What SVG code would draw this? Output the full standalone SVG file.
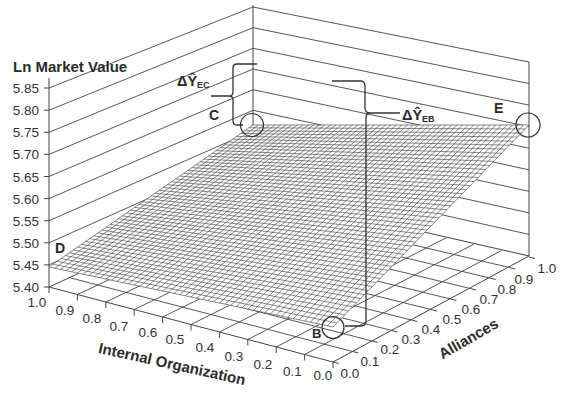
<svg xmlns="http://www.w3.org/2000/svg" width="561" height="393" viewBox="0 0 561 393">
<style>
.grid{fill:none;stroke:#444;stroke-width:0.9}
.mesh{fill:none;stroke:#4a4a4a;stroke-width:0.65}
.edge{fill:none;stroke:#444;stroke-width:1}
.brace{fill:none;stroke:#333;stroke-width:1.3}
.ring{fill:none;stroke:#333;stroke-width:1.2}
.num{font-family:"Liberation Sans",Arial,sans-serif;font-size:13.5px;fill:#333}
.lbl{font-family:"Liberation Sans",Arial,sans-serif;font-weight:bold;fill:#2b2b2b}
</style>
<rect width="561" height="393" fill="#fff"/>
<g id="walls">
<polygon points="49,287 49,88 253,7 253,193" fill="#fff"/>
<polygon points="253,7 529,62 529,256 253,193" fill="#fff"/>
<path class="grid" d="M49,264.9L253,172.3M49,242.8L253,151.7M49,220.7L253,131M49,198.6L253,110.3M49,176.5L253,89.7M49,154.4L253,69M49,132.3L253,48.3M49,110.2L253,27.7M49,88L253,7"/>
<path class="grid" d="M253,172.3L529,234.4M253,151.7L529,212.9M253,131L529,191.3M253,110.3L529,169.8M253,89.7L529,148.2M253,69L529,126.6M253,48.3L529,105.1M253,27.7L529,83.5M253,7L529,62"/>
<path class="edge" d="M253,5L253,193M529,62L529,256M49,78L49,287"/>
<path class="edge" d="M44,287H49M44,264.9H49M44,242.8H49M44,220.7H49M44,198.6H49M44,176.5H49M44,154.4H49M44,132.3H49M44,110.2H49M44,88H49"/>
</g>
<g id="floor">
<polygon points="49,287 333,362 529,256 253,193" fill="#fff" stroke="#444" stroke-width="1"/>
<path class="grid" d="M77.4,294.5L280.6,199.4M105.8,302L308.2,205.8M134.2,309.5L335.8,212.2M162.6,317L363.4,218.6M191,324.5L391,225M219.4,332L418.6,231.4M247.8,339.5L446.2,237.8M276.2,347L473.8,244.2M304.6,354.5L501.4,250.6"/>
<path class="grid" d="M69.4,277.6L352.6,351.5M89.8,268.2L372.2,341M110.2,258.8L391.8,330.5M130.6,249.4L411.4,320M151,240L431,309.5M171.4,230.6L450.6,299M191.8,221.2L470.2,288.5M212.2,211.8L489.8,278M232.6,202.4L509.4,267.5"/>
<path class="edge" d="M49,287v6M77.4,294.5v6M105.8,302v6M134.2,309.5v6M162.6,317v6M191,324.5v6M219.4,332v6M247.8,339.5v6M276.2,347v6M304.6,354.5v6M333,362v6"/>
<path class="edge" d="M333,362l5.8,1.5M352.6,351.5l5.8,1.5M372.2,341l5.8,1.5M391.8,330.5l5.8,1.5M411.4,320l5.8,1.5M431,309.5l5.8,1.5M450.6,299l5.8,1.5M470.2,288.5l5.8,1.5M489.8,278l5.8,1.5M509.4,267.5l5.8,1.5M529,257l5.8,1.5"/>
</g>
<g id="surface">
<polygon points="49,267 333,327 529,125 253,125" fill="#fff"/>
<path class="mesh" d="M54.7,268.2L258.5,125M60.4,269.4L264,125M66,270.6L269.6,125M71.7,271.8L275.1,125M77.4,273L280.6,125M83.1,274.2L286.1,125M88.8,275.4L291.6,125M94.4,276.6L297.2,125M100.1,277.8L302.7,125M105.8,279L308.2,125M111.5,280.2L313.7,125M117.2,281.4L319.2,125M122.8,282.6L324.8,125M128.5,283.8L330.3,125M134.2,285L335.8,125M139.9,286.2L341.3,125M145.6,287.4L346.8,125M151.2,288.6L352.4,125M156.9,289.8L357.9,125M162.6,291L363.4,125M168.3,292.2L368.9,125M174,293.4L374.4,125M179.6,294.6L380,125M185.3,295.8L385.5,125M191,297L391,125M196.7,298.2L396.5,125M202.4,299.4L402,125M208,300.6L407.6,125M213.7,301.8L413.1,125M219.4,303L418.6,125M225.1,304.2L424.1,125M230.8,305.4L429.6,125M236.4,306.6L435.2,125M242.1,307.8L440.7,125M247.8,309L446.2,125M253.5,310.2L451.7,125M259.2,311.4L457.2,125M264.8,312.6L462.8,125M270.5,313.8L468.3,125M276.2,315L473.8,125M281.9,316.2L479.3,125M287.6,317.4L484.8,125M293.2,318.6L490.4,125M298.9,319.8L495.9,125M304.6,321L501.4,125M310.3,322.2L506.9,125M316,323.4L512.4,125M321.6,324.6L518,125M327.3,325.8L523.5,125"/>
<path class="mesh" d="M53.1,264.2L336.9,323M57.2,261.3L340.8,318.9M61.2,258.5L344.8,314.9M65.3,255.6L348.7,310.8M69.4,252.8L352.6,306.8M73.5,250L356.5,302.8M77.6,247.1L360.4,298.7M81.6,244.3L364.4,294.7M85.7,241.4L368.3,290.6M89.8,238.6L372.2,286.6M93.9,235.8L376.1,282.6M98,232.9L380,278.5M102,230.1L384,274.5M106.1,227.2L387.9,270.4M110.2,224.4L391.8,266.4M114.3,221.6L395.7,262.4M118.4,218.7L399.6,258.3M122.4,215.9L403.6,254.3M126.5,213L407.5,250.2M130.6,210.2L411.4,246.2M134.7,207.4L415.3,242.2M138.8,204.5L419.2,238.1M142.8,201.7L423.2,234.1M146.9,198.8L427.1,230M151,196L431,226M155.1,193.2L434.9,222M159.2,190.3L438.8,217.9M163.2,187.5L442.8,213.9M167.3,184.6L446.7,209.8M171.4,181.8L450.6,205.8M175.5,179L454.5,201.8M179.6,176.1L458.4,197.7M183.6,173.3L462.4,193.7M187.7,170.4L466.3,189.6M191.8,167.6L470.2,185.6M195.9,164.8L474.1,181.6M200,161.9L478,177.5M204,159.1L482,173.5M208.1,156.2L485.9,169.4M212.2,153.4L489.8,165.4M216.3,150.6L493.7,161.4M220.4,147.7L497.6,157.3M224.4,144.9L501.6,153.3M228.5,142L505.5,149.2M232.6,139.2L509.4,145.2M236.7,136.4L513.3,141.2M240.8,133.5L517.2,137.1M244.8,130.7L521.2,133.1M248.9,127.8L525.1,129"/>
<polygon points="49,267 333,327 529,125 253,125" fill="none" stroke="#555" stroke-width="0.7"/>
</g>
<g id="axis-labels">
<text class="lbl" x="13" y="72" font-size="15">Ln Market Value</text>
<g class="num" text-anchor="end">
<text x="39" y="93">5.85</text><text x="39" y="115.2">5.80</text><text x="39" y="137.3">5.75</text><text x="39" y="159.4">5.70</text><text x="39" y="181.5">5.65</text><text x="39" y="203.6">5.60</text><text x="39" y="225.7">5.55</text><text x="39" y="247.8">5.50</text><text x="39" y="269.9">5.45</text><text x="39" y="292">5.40</text>
</g>
<g class="num" text-anchor="middle">
<text x="37" y="306.7">1.0</text><text x="65" y="314.7">0.9</text><text x="92" y="322.7">0.8</text><text x="119" y="330.7">0.7</text><text x="148" y="337.2">0.6</text><text x="175" y="343.7">0.5</text><text x="205" y="352.2">0.4</text><text x="234" y="360.7">0.3</text><text x="263" y="368.7">0.2</text><text x="292.5" y="375.7">0.1</text><text x="323" y="380.2">0.0</text>
</g>
<g class="num" text-anchor="middle">
<text x="350" y="377.7">0.0</text><text x="370" y="365.7">0.1</text><text x="390" y="353.7">0.2</text><text x="411" y="343.7">0.3</text><text x="431" y="333.7">0.4</text><text x="452" y="323.7">0.5</text><text x="471" y="313.7">0.6</text><text x="489" y="303.7">0.7</text><text x="507" y="293.7">0.8</text><text x="524" y="283.7">0.9</text><text x="547" y="272.7">1.0</text>
</g>
<text class="lbl" font-size="15" text-anchor="middle" transform="translate(171,369) rotate(12.5)">Internal Organization</text>
<text class="lbl" font-size="15" text-anchor="middle" transform="translate(471,343) rotate(-30)">Alliances</text>
</g>
<g id="annotations">
<circle class="ring" cx="252" cy="125" r="11.5"/>
<circle class="ring" cx="528" cy="125" r="12"/>
<circle class="ring" cx="333" cy="327.5" r="11"/>
<text class="lbl" font-size="14" x="209" y="120">C</text>
<text class="lbl" font-size="14" x="55" y="253">D</text>
<text class="lbl" font-size="14" x="494" y="113">E</text>
<text class="lbl" font-size="13" x="312" y="338">B</text>
<path class="brace" d="M257,64L237,64Q233,64 233,68L233,92Q233,96 229,96L211,96M229,96Q233,96 233,100L233,121Q233,125 237,125L243,125"/>
<path class="brace" d="M332,81L360,81Q365,81 365,86L365,108Q365,113 370,113L400,113M370,113Q366,113 366,118L366,321Q366,326 361,326L345,326"/>
<text class="lbl" font-size="14.5" x="177" y="86">ΔŶ<tspan font-size="9" dy="2">EC</tspan></text>
<text class="lbl" font-size="14.5" x="402" y="120">ΔŶ<tspan font-size="9" dy="2">EB</tspan></text>
</g>
</svg>
